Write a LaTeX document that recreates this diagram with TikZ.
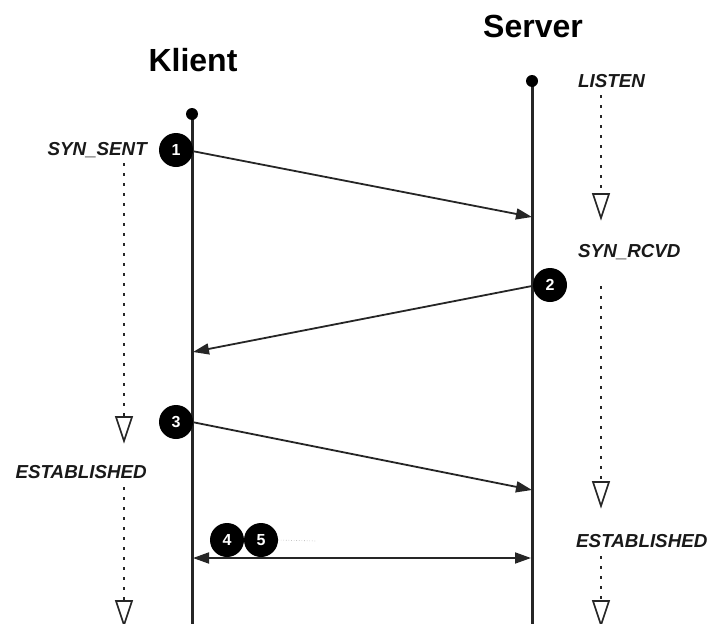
\documentclass[tikz,border=0pt]{standalone}
\usepackage{fontspec}
\setmainfont{Liberation Sans}
\usetikzlibrary{arrows.meta,calc}
\tikzset{
  title/.style={font=\fontsize{32}{36}\selectfont\bfseries, inner sep=0pt},
  statelbl/.style={font=\fontsize{18.8}{21}\selectfont\bfseries\itshape, text=black!90, inner sep=0pt},
  lifeline/.style={line width=3pt, black!85},
  msg/.style={line width=1.8pt, black!85, -{Triangle[length=16pt,width=11pt]}},
  stepnum/.style={circle, fill=black, minimum size=34pt, inner sep=0pt, text=white,
    font=\fontsize{16}{17}\selectfont\bfseries},
  waitline/.style={line width=2.2pt, dash pattern=on 2.5pt off 7.5pt, black!85},
  opentri/.style={line width=1.6pt, black!85, fill=white},
}
\newcommand{\opendown}[1]{%
  \draw[opentri] ($(#1)+(-8,0)$) -- ($(#1)+(8,0)$) -- ($(#1)+(0,24)$) -- cycle;}
\begin{document}
\begin{tikzpicture}[x=1pt,y=-1pt]
\useasboundingbox (0,0) rectangle (710,624);

% titles
\node[title, anchor=base] (klient) at (193,71) {Klient};
\node[title, anchor=base] (server) at (533,37) {Server};

% lifelines with start dots
\coordinate (ctop) at (192,114);
\coordinate (cbot) at (192,624);
\coordinate (stop) at (532,81);
\coordinate (sbot) at (532,624);
\draw[lifeline] (ctop) -- (cbot);
\draw[lifeline] (stop) -- (sbot);
\fill[black] (ctop) circle (6pt);
\fill[black] (stop) circle (6pt);

% message endpoints on the lifelines
\coordinate (m1a) at (192,151);
\coordinate (m1b) at (532,217);
\coordinate (m2a) at (532,286);
\coordinate (m2b) at (193,352);
\coordinate (m3a) at (192,422);
\coordinate (m3b) at (532,490);
\coordinate (m4a) at (193,558);
\coordinate (m4b) at (531,558);

\draw[msg] (m1a) -- (m1b);
\draw[msg] (m2a) -- (m2b);
\draw[msg] (m3a) -- (m3b);
\draw[msg, {Triangle[length=16pt,width=11pt]}-{Triangle[length=16pt,width=11pt]}] (m4a) -- (m4b);

% numbered steps
\node[stepnum] (n1) at (176,150) {1};
\node[stepnum] (n2) at (550,285) {2};
\node[stepnum] (n3) at (176,422) {3};
\node[stepnum] (n4) at (227,540) {4};
\node[stepnum] (n5) at (261,540) {5};
\coordinate (n5end) at (316,541);
\draw[black!35, line width=0.6pt, dotted] (n5.east) -- (n5end);

% client states
\node[statelbl, anchor=base east] (synsent) at (147,155) {SYN\_SENT};
\node[statelbl, anchor=base east] (estc) at (147,478) {ESTABLISHED};
\coordinate (c1a) at (124,163);
\coordinate (c1b) at (124,417);
\coordinate (c2a) at (124,487);
\coordinate (c2b) at (124,601);
\draw[waitline] (c1a) -- (c1b);
\opendown{c1b}
\draw[waitline] (c2a) -- (c2b);
\opendown{c2b}

% server states
\node[statelbl, anchor=base west] (listen) at (578,87) {LISTEN};
\node[statelbl, anchor=base west] (synrcvd) at (578,257) {SYN\_RCVD};
\node[statelbl, anchor=base west] (ests) at (576,547) {ESTABLISHED};
\coordinate (s1a) at (601,95);
\coordinate (s1b) at (601,194);
\coordinate (s2a) at (601,286);
\coordinate (s2b) at (601,482);
\coordinate (s3a) at (601,556);
\coordinate (s3b) at (601,601);
\draw[waitline] (s1a) -- (s1b);
\opendown{s1b}
\draw[waitline] (s2a) -- (s2b);
\opendown{s2b}
\draw[waitline] (s3a) -- (s3b);
\opendown{s3b}
\end{tikzpicture}
\end{document}
